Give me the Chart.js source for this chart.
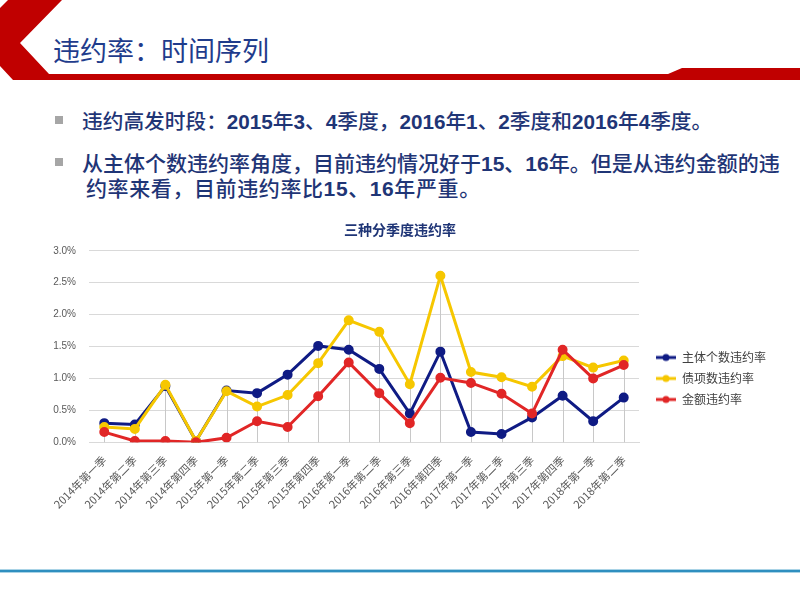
<!DOCTYPE html>
<html lang="zh">
<head>
<meta charset="UTF-8">
<title>违约率：时间序列</title>
<script src="https://cdn.jsdelivr.net/npm/chart.js@4.4.1/dist/chart.umd.min.js"></script>
<style>
    body{ margin:0; background:#fff; font-family:"Noto Sans CJK SC", sans-serif; }
    #page{ position:relative; width:800px; height:600px; overflow:hidden; }
    #deco{ position:absolute; left:0; top:0; }
    #head{ position:absolute; left:53px; top:31px; font-size:27px; line-height:38px; color:#1F3C8C; }
    .bul{ position:absolute; left:82px; font-size:21px; line-height:26px; color:#1F3576; font-weight:500; white-space:nowrap; }
    .bul b{ font-family:"Liberation Sans", sans-serif; font-weight:bold; }
    .sq{ position:absolute; left:55px; width:8px; height:8px; background:#A6A6A6; }
    #board{ position:absolute; left:0; top:215px; }
    #foot{ position:absolute; left:0; top:569px; width:800px; height:2px; background:#2F8FBF;
           border-top:1px solid #A9D3E6; border-bottom:1px solid #A9D3E6; }
</style>
</head>
<body>
<div id="page">
    <svg id="deco" width="800" height="90">
        <polygon points="8,0 62,0 20,43 49,74 668,74 682,68 800,68 800,80 13,80 0,66 0,8" fill="#C00000"/>
    </svg>
    <div id="head">违约率：时间序列</div>

    <div class="sq" style="top:116px"></div>
    <div class="bul" style="top:107px; font-size:20.7px">违约高发时段：<b>2015</b>年<b>3</b>、<b>4</b>季度，<b>2016</b>年<b>1</b>、<b>2</b>季度和<b>2016</b>年<b>4</b>季度。</div>
    <div class="sq" style="top:158px"></div>
    <div class="bul" style="top:149px">从主体个数违约率角度，目前违约情况好于<b>15</b>、<b>16</b>年。但是从违约金额的违</div>
    <div class="bul" style="top:174px; left:86px; letter-spacing:0.6px">约率来看，目前违约率比<b>15</b>、<b>16</b>年严重。</div>

    <div id="board"><canvas id="chart1" width="800" height="310"></canvas></div>
    <div id="foot"></div>
</div>

<script>
    const quarters = ['2014年第一季','2014年第二季','2014年第三季','2014年第四季',
                      '2015年第一季','2015年第二季','2015年第三季','2015年第四季',
                      '2016年第一季','2016年第二季','2016年第三季','2016年第四季',
                      '2017年第一季','2017年第二季','2017年第三季','2017年第四季',
                      '2018年第一季','2018年第二季'];
    // 单位 %
    const entityRate = [0.30,0.28,0.88,0.02,0.81,0.77,1.06,1.51,1.45,1.15,0.45,1.42,0.16,0.13,0.39,0.73,0.33,0.70];
    const bondRate   = [0.24,0.21,0.90,0.02,0.80,0.56,0.74,1.24,1.91,1.73,0.91,2.61,1.10,1.02,0.87,1.35,1.17,1.28];
    const amountRate = [0.16,0.02,0.02,0.00,0.07,0.33,0.24,0.72,1.25,0.77,0.30,1.01,0.93,0.76,0.45,1.45,1.00,1.21];
    const yTicks = [0, 0.5, 1.0, 1.5, 2.0, 2.5, 3.0];

    const NAVY = '#0F1B84', GOLD = '#F6C700', RED = '#E12626';

    // 图例里的 "线+点" 小图标
    function legendIcon(color){
        const c = document.createElement('canvas');
        c.width = 28; c.height = 10;
        const g = c.getContext('2d');
        g.strokeStyle = color; g.lineWidth = 3;
        g.beginPath(); g.moveTo(8,5); g.lineTo(28,5); g.stroke();
        g.fillStyle = color;
        g.beginPath(); g.arc(18,5,3.5,0,Math.PI*2); g.fill();
        return c;
    }

    // 每个季度从 0 画到最高点的灰色竖线
    const dropLines = {
        id:'dropLines',
        beforeDatasetsDraw(chart){
            const {ctx, scales:{x, y}} = chart;
            ctx.save();
            ctx.strokeStyle = '#C8C8C8';
            ctx.lineWidth = 1;
            quarters.forEach((q, i) => {
                const top = Math.max(...chart.data.datasets.map(d => d.data[i]));
                const px = Math.round(x.getPixelForValue(i)) + 0.5;
                ctx.beginPath();
                ctx.moveTo(px, y.getPixelForValue(0));
                ctx.lineTo(px, y.getPixelForValue(top));
                ctx.stroke();
            });
            ctx.restore();
        }
    };

    // 固定图例宽度, 让绘图区右边对齐; 图例再往下挪一点
    const legendFix = {
        id:'legendFix',
        beforeLayout(chart){
            const lg = chart.legend;
            if(!lg || lg._fixed) return;
            const fit = lg.fit.bind(lg);
            lg.fit = function(){ fit(); this.width = 161; };
            lg._fixed = true;
        },
        afterLayout(chart){
            chart.legend.top += 14;
            chart.legend.bottom += 14;
        }
    };

    const line = (label, data, color, order) => ({
        label, data, order,
        borderColor: color, backgroundColor: color,
        borderWidth: 3, pointRadius: 3.5, pointHoverRadius: 4,
        pointBackgroundColor: color, pointBorderColor: color,
        tension: 0, _icon: legendIcon(color)
    });

    const ctx = document.getElementById('chart1').getContext('2d');
    new Chart(ctx, {
        type:'line',
        data:{
            labels: quarters,
            datasets:[
                line('主体个数违约率', entityRate, NAVY, 3),
                line('债项数违约率', bondRate, GOLD, 2),
                line('金额违约率', amountRate, RED, 1)
            ]
        },
        options:{
            responsive:false,
            animation:false,
            layout:{ padding:{ bottom:11 } },
            scales:{
                x:{
                    offset:true,
                    grid:{ display:false },
                    border:{ display:true, color:'#D9D9D9' },
                    ticks:{ autoSkip:false, minRotation:45, maxRotation:45, color:'#595959',
                            font:{ size:11, family:'"Noto Sans CJK SC", sans-serif' } }
                },
                y:{
                    min:0, max:3,
                    afterBuildTicks: s => { s.ticks = yTicks.map(v => ({value:v})); },
                    afterFit: s => { s.width = 89; },
                    grid:{ color:'#D9D9D9', drawTicks:false },
                    border:{ display:false },
                    ticks:{ padding:13, color:'#595959', font:{ size:10, family:'"Liberation Sans", sans-serif' },
                            callback: v => v.toFixed(1) + '%' }
                }
            },
            plugins:{
                title:{
                    display:true, text:'三种分季度违约率', color:'#1F3576',
                    font:{ size:14, weight:'bold', family:'"Noto Sans CJK SC", sans-serif' },
                    padding:{ top:6, bottom:13 }
                },
                legend:{
                    position:'right',
                    labels:{
                        usePointStyle:true, pointStyleWidth:28, padding:9,
                        color:'#404040', font:{ size:12, family:'"Noto Sans CJK SC", sans-serif' },
                        generateLabels(chart){
                            const items = Chart.defaults.plugins.legend.labels.generateLabels(chart);
                            items.sort((a, b) => a.datasetIndex - b.datasetIndex);
                            items.forEach(it => { it.pointStyle = chart.data.datasets[it.datasetIndex]._icon; });
                            return items;
                        }
                    }
                },
                tooltip:{ enabled:false }
            }
        },
        plugins:[dropLines, legendFix]
    });
</script>
</body>
</html>
